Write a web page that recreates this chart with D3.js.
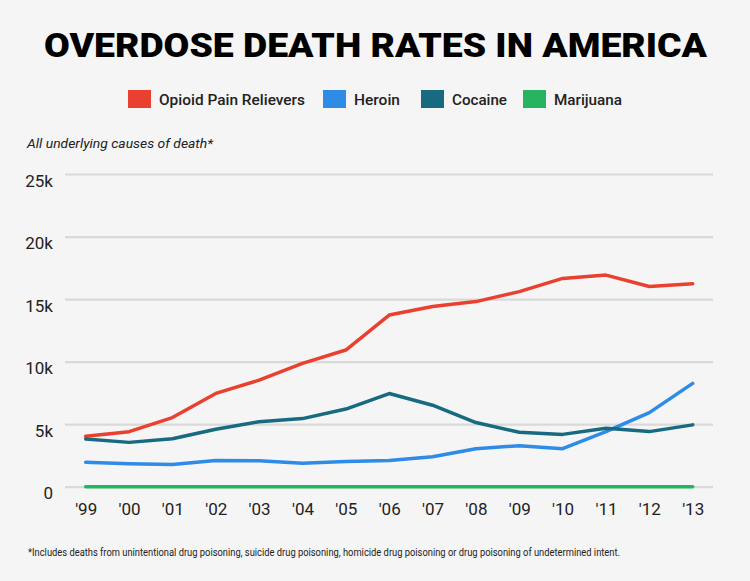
<!DOCTYPE html>
<html><head><meta charset="utf-8">
<script src="https://cdn.jsdelivr.net/npm/d3@7"></script>
<style>
html,body{margin:0;padding:0;background:#f5f5f5;}
svg{display:block;font-family:Roboto, "Noto Sans", sans-serif;}
</style></head>
<body>
<svg id="chart" width="750" height="581"></svg>
<script>
const years = ["'99","'00","'01","'02","'03","'04","'05","'06","'07","'08","'09","'10","'11","'12","'13"];
const opioid = [4030,4400,5528,7456,8517,9857,10928,13723,14408,14800,15597,16651,16917,16007,16235];
const heroin = [1960,1842,1779,2089,2080,1878,2009,2088,2399,3041,3278,3036,4397,5925,8257];
const cocaine = [3822,3544,3833,4599,5199,5443,6208,7448,6512,5129,4350,4183,4681,4404,4944];
const marijuana = [0,0,0,0,0,0,0,0,0,0,0,0,0,0,0];
const seriesNames = ["Opioid Pain Relievers","Heroin","Cocaine","Marijuana"];
const seriesColors = ["#e9402f","#2e8be6","#176a80","#27b35f"];
const yTicks = [0,5000,10000,15000,20000,25000];
const yTickLabels = ["0","5k","10k","15k","20k","25k"];
const titleText = "OVERDOSE DEATH RATES IN AMERICA";
const subtitleText = "All underlying causes of death*";
const footnoteText = "*Includes deaths from unintentional drug poisoning, suicide drug poisoning, homicide drug poisoning or drug poisoning of undetermined intent.";

const series = [opioid, heroin, cocaine, marijuana];
const svg = d3.select("#chart");
svg.append("rect").attr("width",750).attr("height",581).attr("fill","#f5f5f5");

// Title
svg.append("text").attr("x",44).attr("y",57)
  .attr("font-size",34).attr("font-weight",900).attr("fill","#000")
  .attr("textLength",663).attr("lengthAdjust","spacingAndGlyphs")
  .text(titleText);

// Legend
const legendX = [128,323,421,523];
const legendTextW = [146,46,55,68];
const lg = svg.append("g");
seriesNames.forEach((n,i)=>{
  lg.append("rect").attr("x",legendX[i]).attr("y",90).attr("width",23).attr("height",18)
    .attr("fill",seriesColors[i]);
  lg.append("text").attr("x",legendX[i]+31).attr("y",104.5)
    .attr("font-size",15).attr("font-weight",500).attr("fill","#222")
    .attr("textLength",legendTextW[i]).attr("lengthAdjust","spacingAndGlyphs")
    .text(n);
});

// Subtitle
svg.append("text").attr("x",27).attr("y",148).attr("font-size",13)
  .attr("font-style","italic").attr("fill","#222")
  .attr("textLength",186).attr("lengthAdjust","spacingAndGlyphs")
  .text(subtitleText);

// Scales
const x = d3.scalePoint().domain(years).range([85.7,692.7]);
const y = d3.scaleLinear().domain([0,25000]).range([486.7,174]);

// Gridlines
const yAxis = d3.axisLeft(y).tickValues(yTicks).tickSize(-(713-65)).tickFormat("");
const gy = svg.append("g").attr("transform","translate(65,0)").call(yAxis);
gy.select(".domain").remove();
gy.selectAll(".tick line").attr("stroke","#d9d9d9").attr("stroke-width",2.2);

// Y labels
svg.append("g").selectAll("text").data(yTicks).join("text")
  .attr("x",53).attr("y",d=>y(d)+12.5).attr("text-anchor","end")
  .attr("font-size",17).attr("fill","#222")
  .text((d,i)=>yTickLabels[i]);

// X axis labels
const xAxis = d3.axisBottom(x).tickSize(0).tickPadding(0);
const gx = svg.append("g").attr("transform","translate(0,503)").call(xAxis);
gx.select(".domain").remove();
gx.selectAll(".tick text").attr("font-size",17).attr("fill","#222")
  .attr("font-family","Roboto, sans-serif").attr("dy","0.71em").attr("y",0);

// Lines
const line = d3.line().x((d,i)=>x(years[i])).y(d=>y(d));
const order = [3,0,1,2];
order.forEach(i=>{
  svg.append("path").datum(series[i]).attr("d",line)
    .attr("fill","none").attr("stroke",seriesColors[i]).attr("stroke-width",3.5)
    .attr("stroke-linejoin","round").attr("stroke-linecap","round");
});

// Footnote
svg.append("text").attr("x",28).attr("y",556).attr("font-size",10).attr("fill","#222")
  .attr("textLength",592).attr("lengthAdjust","spacingAndGlyphs")
  .text(footnoteText);
</script>
</body></html>
